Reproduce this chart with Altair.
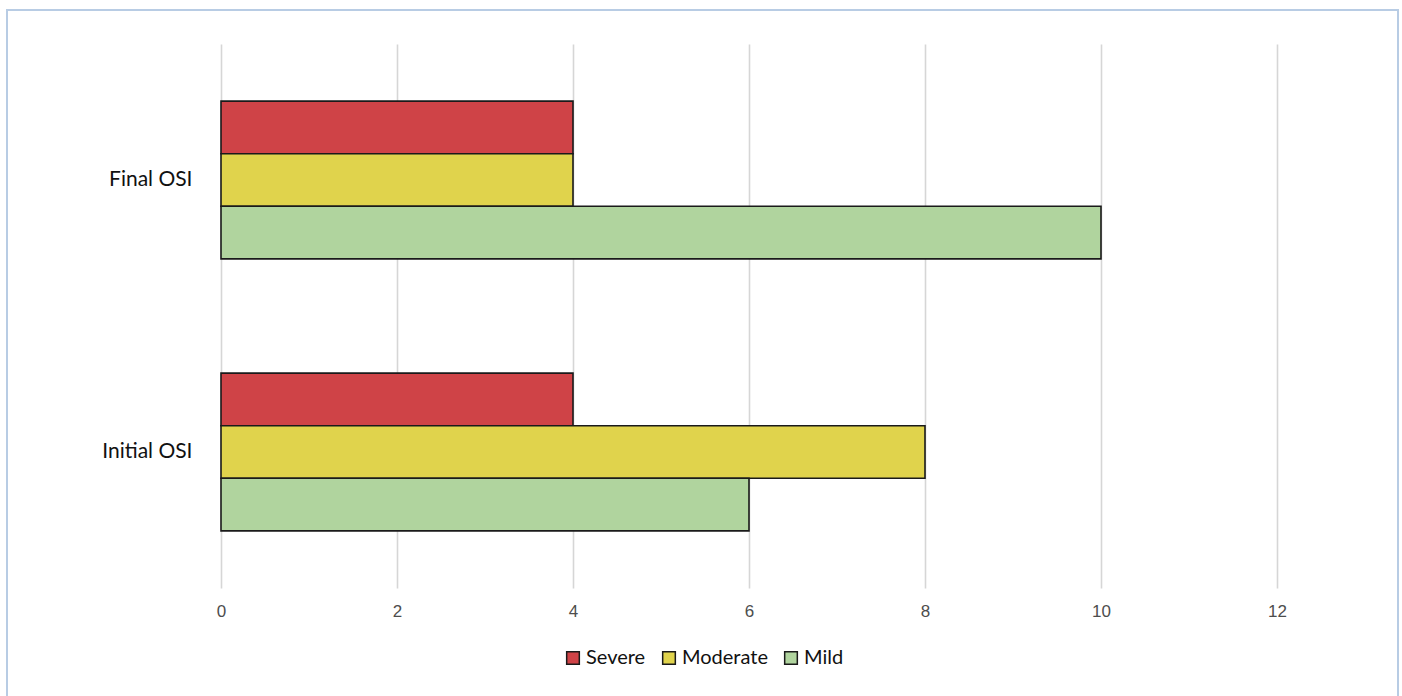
import altair as alt
import pandas as pd

categories = ["Final OSI", "Initial OSI"]
severities = ["Severe", "Moderate", "Mild"]
severe_vals = [4, 4]
moderate_vals = [4, 8]
mild_vals = [10, 6]
colors = ["#cf4347", "#e0d34c", "#b0d49e"]
x_ticks = [0, 2, 4, 6, 8, 10, 12]

rows = []
for i, c in enumerate(categories):
    for s, vals in zip(severities, [severe_vals, moderate_vals, mild_vals]):
        rows.append({"cat": c, "sev": s, "val": vals[i]})
df = pd.DataFrame(rows)

bars = alt.Chart(df).mark_bar(stroke="#1a1a1a", strokeWidth=1.6, cornerRadius=0).encode(
    x=alt.X("val:Q", scale=alt.Scale(domain=[0, 12], nice=False),
            axis=alt.Axis(values=x_ticks, title=None, grid=True, gridColor="#d6d6d6",
                          gridWidth=1.6, domain=False, ticks=False, labelPadding=15,
                          labelFlush=False,
                          labelFont="Liberation Sans", labelFontSize=17, labelColor="#4d4d4d")),
    y=alt.Y("cat:N", sort=categories,
            scale=alt.Scale(paddingInner=0.42, paddingOuter=0.21),
            axis=alt.Axis(title=None, domain=False, ticks=False, labelPadding=29,
                          labelFont="Lato", labelFontSize=21, labelColor="#111111")),
    yOffset=alt.YOffset("sev:N", sort=severities),
    color=alt.Color("sev:N", sort=severities,
                    scale=alt.Scale(domain=severities, range=colors),
                    legend=alt.Legend(title=None, orient="none", direction="horizontal",
                                      legendX=342, legendY=604,
                                      symbolType="square", symbolSize=160,
                                      symbolStrokeColor="#1a1a1a", symbolStrokeWidth=1.5,
                                      symbolOpacity=1,
                                      labelFont="Lato", labelFontSize=20, labelColor="#111111",
                                      labelOffset=3, columnPadding=13)),
)

border = alt.Chart(pd.DataFrame({"a": [0]})).mark_rect(
    fill=None, stroke="#b8cce4", strokeWidth=2
).encode(
    x=alt.value(-214), x2=alt.value(1177), y=alt.value(-34), y2=alt.value(700)
)

chart = alt.layer(border, bars).properties(
    width=1056, height=544,
    background="white",
    autosize=alt.AutoSizeParams(type="none"),
    padding={"left": 221, "top": 44, "right": 125, "bottom": 108},
).configure_view(stroke=None)

chart.save("out.html", embed_options={"renderer": "svg", "actions": False})
